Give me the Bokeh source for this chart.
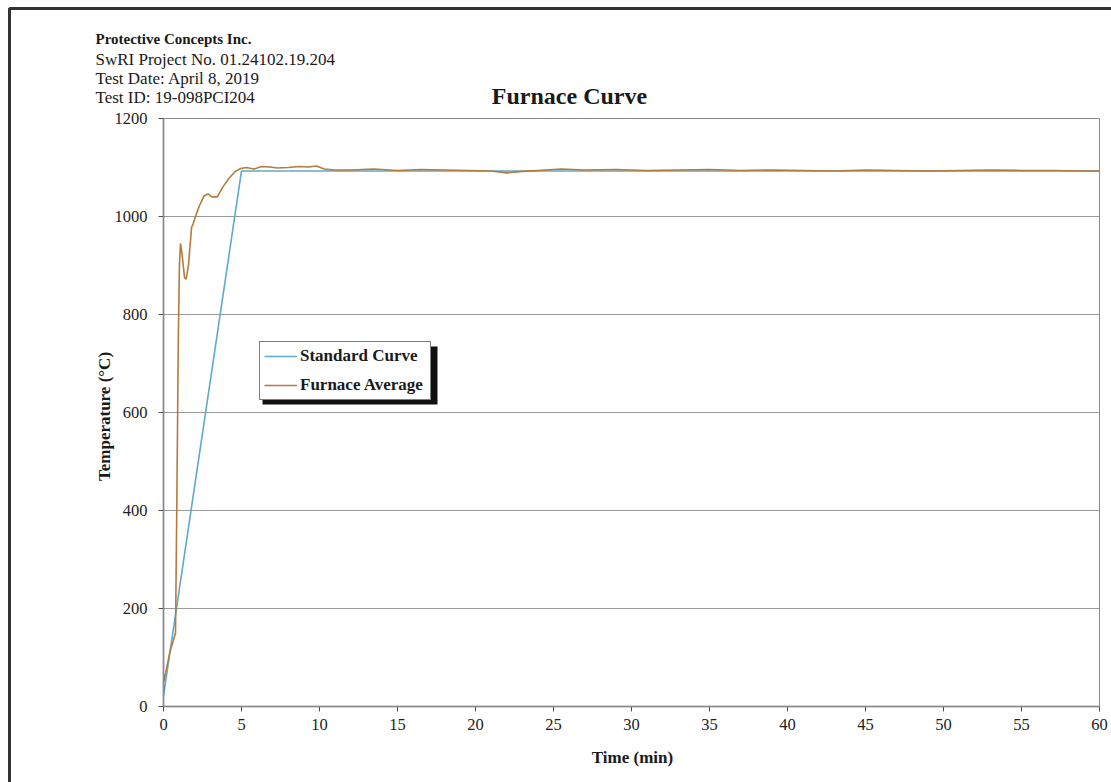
from bokeh.plotting import figure
from bokeh.models import (Label, BoxAnnotation, Legend, LegendItem, FixedTicker, Range1d,
                          LinearAxis)
from bokeh.embed import file_html
from bokeh.resources import INLINE
import math

# ---- data ----
std_time = [0, 5, 60]
std_temp = [22, 1093, 1093]

furn_time = [0, 0.15, 0.4, 0.77, 0.85, 0.95, 1.02, 1.09, 1.2, 1.35, 1.45, 1.6, 1.8, 1.9,
             2.05, 2.3, 2.6, 2.85, 3.1, 3.45, 3.8, 4.2, 4.6, 4.95, 5.3, 5.8, 6.3, 6.8,
             7.3, 8.0, 8.7, 9.3, 9.8, 10.3, 11, 12, 13.5, 15, 16.5, 18, 19.5, 21, 22,
             23, 24, 25.5, 27, 29, 31, 33, 35, 37, 39, 41, 43, 45, 47, 49, 51, 53, 55,
             57, 59, 60]
furn_temp = [50, 70, 110, 150, 400, 750, 900, 945, 920, 875, 872, 900, 978, 985,
             1000, 1022, 1042, 1046, 1040, 1040, 1060, 1078, 1092, 1098, 1100, 1097, 1102, 1101,
             1099, 1100, 1102, 1101, 1103, 1097, 1095, 1095, 1097, 1094, 1096, 1095, 1094, 1093, 1089,
             1092, 1094, 1097, 1095, 1096, 1094, 1095, 1096, 1094, 1095, 1094, 1093, 1095, 1094,
             1093, 1094, 1095, 1094, 1094, 1093, 1093]

x_ticks = list(range(0, 61, 5))
y_ticks = list(range(0, 1201, 200))

header_lines = ["Protective Concepts Inc.", "SwRI Project No. 01.24102.19.204",
                "Test Date: April 8, 2019", "Test ID: 19-098PCI204"]
title_text = "Furnace Curve"
x_title = "Time (min)"
y_title = "Temperature (\u00b0C)"
series_names = ["Standard Curve", "Furnace Average"]

# ---- layout ----
W, H = 1111, 782
PL, PR, PT, PB = 163, 1099, 118, 706          # plot-area box in page pixels
XMIN, XMAX, YMIN, YMAX = 0, 60, 0, 1200
kx = (PR - PL) / (XMAX - XMIN)
ky = (PB - PT) / (YMAX - YMIN)

# the frame covers the whole page; the ranges are widened so that the
# plot area sits at the wanted place
x_range = Range1d(XMIN - PL / kx, XMAX + (W - PR) / kx)
y_range = Range1d(YMIN - (H - PB) / ky, YMAX + PT / ky)

def SX(px):
    return px
def SY(py):
    return H - py

SERIF = "Liberation Serif"
BLUE = "#5fa9cc"
BROWN = "#b57a3c"
TXT = "#1a1a1a"

p = figure(width=W, height=H, output_backend="svg", toolbar_location=None,
           x_range=x_range, y_range=y_range, x_axis_type=None, y_axis_type=None,
           min_border=0)
p.background_fill_color = "white"
p.border_fill_color = "white"
p.outline_line_color = None

# horizontal grid lines across the plot area
p.segment(x0=[XMIN] * len(y_ticks), x1=[XMAX] * len(y_ticks), y0=y_ticks, y1=y_ticks,
          line_color="#9a9a9a", line_width=1)
# plot-area border (top/right light grey)
p.add_layout(BoxAnnotation(left=XMIN, right=XMAX, bottom=YMIN, top=YMAX,
                           fill_alpha=0, line_color="#8a8a8a", line_alpha=1, line_width=1))

xaxis = LinearAxis(fixed_location=YMIN, bounds=(XMIN, XMAX), ticker=FixedTicker(ticks=x_ticks))
yaxis = LinearAxis(fixed_location=XMIN, bounds=(YMIN, YMAX), ticker=FixedTicker(ticks=y_ticks))
for ax in (xaxis, yaxis):
    ax.axis_line_color = "#505050"
    ax.axis_line_width = 1.5
    ax.major_tick_line_color = "#505050"
    ax.major_tick_out = 5
    ax.major_tick_in = 0
    ax.minor_tick_line_color = None
    ax.major_label_text_font = SERIF
    ax.major_label_text_font_size = "16.5px"
    ax.major_label_text_color = "#222222"
xaxis.major_label_standoff = 7
yaxis.major_label_standoff = 11
p.add_layout(xaxis, "below")
p.add_layout(yaxis, "left")

# outer page frame (top and left edges visible)
page = BoxAnnotation(left=SX(9), right=SX(1400), top=SY(8), bottom=SY(1100),
                     left_units="screen", right_units="screen",
                     top_units="screen", bottom_units="screen",
                     fill_alpha=0, line_color="#333333", line_alpha=1, line_width=3)
p.add_layout(page)

r_std = p.line(std_time, std_temp, line_color=BLUE, line_width=1.6)
r_furn = p.line(furn_time, furn_temp, line_color=BROWN, line_width=1.6)

# legend shadow + legend
shadow = BoxAnnotation(left=SX(262), right=SX(437), top=SY(346), bottom=SY(404),
                       left_units="screen", right_units="screen",
                       top_units="screen", bottom_units="screen",
                       fill_color="#111111", fill_alpha=1, line_color=None)
p.add_layout(shadow)
legend = Legend(items=[LegendItem(label=series_names[0], renderers=[r_std]),
                       LegendItem(label=series_names[1], renderers=[r_furn])],
                location=(SX(259), SY(400)), orientation="vertical")
legend.border_line_color = "black"
legend.border_line_width = 1.5
legend.background_fill_color = "white"
legend.background_fill_alpha = 1
legend.padding = 4
legend.spacing = 9
legend.margin = 0
legend.glyph_width = 33
legend.glyph_height = 20
legend.label_height = 20
legend.label_width = 126
legend.label_standoff = 3
legend.label_text_font = SERIF
legend.label_text_font_style = "bold"
legend.label_text_font_size = "17px"
legend.label_text_color = TXT
p.add_layout(legend, "center")

# header texts
baselines = [38, 59, 78, 97]
for i, (t, b) in enumerate(zip(header_lines, baselines)):
    p.add_layout(Label(x=SX(95), y=SY(b), x_units="screen", y_units="screen", text=t,
                       text_align="left", text_baseline="alphabetic",
                       text_font=SERIF, text_font_size="15px" if i == 0 else "17px",
                       text_font_style="bold" if i == 0 else "normal", text_color=TXT))

p.add_layout(Label(x=SX(569), y=SY(95), x_units="screen", y_units="screen", text=title_text,
                   text_align="center", text_baseline="alphabetic", text_font=SERIF,
                   text_font_size="24px", text_font_style="bold", text_color=TXT))
p.add_layout(Label(x=SX(632), y=SY(757), x_units="screen", y_units="screen", text=x_title,
                   text_align="center", text_baseline="alphabetic", text_font=SERIF,
                   text_font_size="17px", text_font_style="bold", text_color=TXT))
p.add_layout(Label(x=SX(104), y=SY(416), x_units="screen", y_units="screen", text=y_title,
                   text_align="center", text_baseline="alphabetic", angle=math.pi / 2,
                   text_font=SERIF, text_font_size="17px", text_font_style="bold",
                   text_color=TXT))

open("out.html", "w").write(file_html(p, INLINE))
